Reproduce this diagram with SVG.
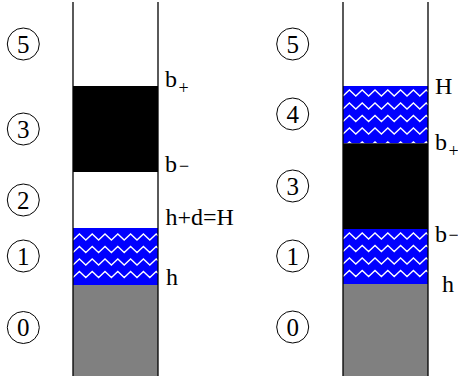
<svg xmlns="http://www.w3.org/2000/svg" xmlns:xlink="http://www.w3.org/1999/xlink" width="458" height="376" viewBox="0 0 458 376">
<style>
.wall{stroke:#000;stroke-width:1.3;fill:none}
.sand{fill:#808080}
.water{fill:#0000ff}
.body{fill:#000}
.zz{fill:none;stroke:#fff;stroke-width:1.3}
.circ{fill:none;stroke:#000;stroke-width:1}
.num{font-size:25px;text-anchor:middle;fill:#000}
.lab{font-size:24px;fill:#000}
.sub{font-size:18px}
</style>
<defs>
<path id="zz" d="M0,6 L6.4,0 L12.8,6 L19.2,0 L25.6,6 L32,0 L38.4,6 L44.8,0 L51.2,6 L57.6,0 L64,6 L70.4,0 L76.8,6 L83.2,0 L85,1.7"/>
</defs>

<g id="left-column">
<rect class="sand" x="73" y="285" width="85" height="91"/>
<rect class="water" x="73" y="228" width="85" height="57"/>
<use class="zz" xlink:href="#zz" x="73" y="234"/>
<use class="zz" xlink:href="#zz" x="73" y="246.5"/>
<use class="zz" xlink:href="#zz" x="73" y="259"/>
<use class="zz" xlink:href="#zz" x="73" y="271.5"/>
<rect class="body" x="73" y="86" width="85" height="86"/>
<line class="wall" x1="73" y1="2" x2="73" y2="376"/>
<line class="wall" x1="158" y1="2" x2="158" y2="376"/>
</g>

<g id="right-column">
<rect class="sand" x="343" y="284" width="85" height="92"/>
<rect class="water" x="343" y="229" width="85" height="55"/>
<use class="zz" xlink:href="#zz" x="343" y="233"/>
<use class="zz" xlink:href="#zz" x="343" y="245.5"/>
<use class="zz" xlink:href="#zz" x="343" y="258"/>
<use class="zz" xlink:href="#zz" x="343" y="270.5"/>
<rect class="water" x="343" y="86" width="85" height="57.3"/>
<use class="zz" xlink:href="#zz" x="343" y="90"/>
<use class="zz" xlink:href="#zz" x="343" y="103"/>
<use class="zz" xlink:href="#zz" x="343" y="115.5"/>
<use class="zz" xlink:href="#zz" x="343" y="128"/>
<use class="zz" xlink:href="#zz" x="343" y="141.8"/>
<rect class="body" x="343" y="143.3" width="85" height="85.7"/>
<line class="wall" x1="343" y1="2" x2="343" y2="376"/>
<line class="wall" x1="428" y1="2" x2="428" y2="376"/>
</g>

<g id="left-markers" font-family="'Liberation Serif', 'Times New Roman', serif">
<g id="L5"><circle class="circ" cx="23.3" cy="44" r="16"/><text class="num" x="23.3" y="52.5">5</text></g>
<g id="L3"><circle class="circ" cx="23.3" cy="129" r="16"/><text class="num" x="23.3" y="137.5">3</text></g>
<g id="L2"><circle class="circ" cx="23.3" cy="200" r="16"/><text class="num" x="23.3" y="208.5">2</text></g>
<g id="L1"><circle class="circ" cx="23.3" cy="256" r="16"/><text class="num" x="23.3" y="264.5">1</text></g>
<g id="L0"><circle class="circ" cx="23.3" cy="327.5" r="16"/><text class="num" x="23.3" y="336">0</text></g>
</g>

<g id="right-markers" font-family="'Liberation Serif', 'Times New Roman', serif">
<g id="R5"><circle class="circ" cx="292.7" cy="44" r="16"/><text class="num" x="292.7" y="52.5">5</text></g>
<g id="R4"><circle class="circ" cx="292.7" cy="114" r="16"/><text class="num" x="292.7" y="122.5">4</text></g>
<g id="R3"><circle class="circ" cx="292.7" cy="186" r="16"/><text class="num" x="292.7" y="194.5">3</text></g>
<g id="R1"><circle class="circ" cx="292.7" cy="256" r="16"/><text class="num" x="292.7" y="264.5">1</text></g>
<g id="R0"><circle class="circ" cx="292.7" cy="327" r="16"/><text class="num" x="292.7" y="335.5">0</text></g>
</g>

<g id="left-labels" font-family="'Liberation Serif', 'Times New Roman', serif">
<text class="lab" x="165" y="87">b<tspan class="sub" x="178.5" y="94">+</tspan></text>
<text class="lab" x="165" y="172">b<tspan class="sub" x="179" y="172">−</tspan></text>
<text class="lab" x="165.5" y="225">h+d=H</text>
<text class="lab" x="166" y="284.5">h</text>
</g>

<g id="right-labels" font-family="'Liberation Serif', 'Times New Roman', serif">
<text class="lab" x="435" y="94">H</text>
<text class="lab" x="435" y="150">b<tspan class="sub" x="448.5" y="157">+</tspan></text>
<text class="lab" x="435" y="242">b<tspan class="sub" x="448.5" y="241">−</tspan></text>
<text class="lab" x="442" y="292">h</text>
</g>
</svg>
